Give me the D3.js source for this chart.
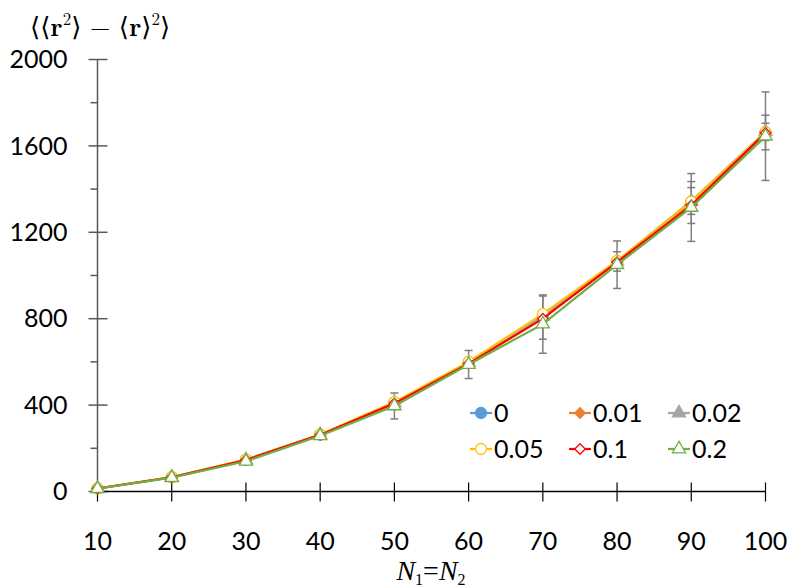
<!DOCTYPE html>
<html><head><meta charset="utf-8">
<script src="https://cdn.jsdelivr.net/npm/d3@7"></script>
<style>body{margin:0;background:#fff}svg{display:block}</style>
</head><body>
<svg id="c" width="789" height="587"></svg>
<script>
const xValues = [10,20,30,40,50,60,70,80,90,100];
const seriesNames = ["0","0.01","0.02","0.05","0.1","0.2"];
const s0    = [14, 66, 147, 263, 410, 596, 805, 1065, 1338, 1662];
const s001  = [14, 66, 146, 262, 408, 594, 805, 1063, 1332, 1660];
const s002  = [14, 66, 147, 263, 410, 597, 812, 1066, 1345, 1665];
const s005  = [14, 67, 148, 264, 414, 600, 822, 1068, 1342, 1663];
const s01   = [14, 66, 146, 262, 408, 592, 800, 1062, 1325, 1660];
const s02   = [13, 64, 140, 258, 396, 588, 775, 1050, 1315, 1645];
const e0    = [0,0,0,0,0,0,100,45,97,80];
const e001  = [0,0,0,0,0,0,0,0,0,0];
const e002  = [0,0,0,0,0,0,0,0,62,40];
const e005  = [0,0,0,0,0,0,0,0,0,0];
const e01   = [0,0,0,0,0,0,0,0,0,0];
const e02   = [3,5,10,10,60,65,135,110,157,205];
const yTicks = [0,400,800,1200,1600,2000];
const yMinor = [200,600,1000,1400,1800];

const vals = [s0,s001,s002,s005,s01,s02];
const errs = [e0,e001,e002,e005,e01,e02];
const styles = [
  {color:"#5b9bd5", shape:"circle", fill:true},
  {color:"#ed7d31", shape:"diamond", fill:true},
  {color:"#a5a5a5", shape:"triangle", fill:true},
  {color:"#ffc000", shape:"circle", fill:false},
  {color:"#ff0000", shape:"diamond", fill:false},
  {color:"#70ad47", shape:"triangle", fill:false}
];

const svg = d3.select("#c");
const x = d3.scaleLinear().domain([10,100]).range([97.5,765.5]);
const y = d3.scaleLinear().domain([0,2000]).range([491.5,59.5]);
const font = "Lato, 'Open Sans', sans-serif";

// y axis
const ya = svg.append("g").attr("transform","translate(97.5,0)");
ya.append("line").attr("y1",y(2000)).attr("y2",y(0)).attr("stroke","#595959").attr("stroke-width",1.5);
ya.selectAll(".mj").data(yTicks).join("line").attr("x1",-9).attr("x2",10)
  .attr("y1",d=>y(d)).attr("y2",d=>y(d)).attr("stroke","#595959").attr("stroke-width",1.5);
ya.selectAll(".mn").data(yMinor).join("line").attr("x1",-7).attr("x2",0)
  .attr("y1",d=>y(d)).attr("y2",d=>y(d)).attr("stroke","#595959").attr("stroke-width",1.5);
ya.selectAll("text").data(yTicks).join("text").attr("x",-30).attr("y",d=>y(d)).attr("dy","0.35em")
  .attr("text-anchor","end").attr("font-family",font).attr("font-size",25).attr("fill","#000").text(d=>d);

// x axis
const xa = svg.append("g").attr("transform",`translate(0,${y(0)})`);
xa.append("line").attr("x1",x(10)).attr("x2",x(100)).attr("stroke","#000").attr("stroke-width",1.5);
xa.selectAll(".t").data(xValues).join("line").attr("x1",d=>x(d)).attr("x2",d=>x(d))
  .attr("y1",-9).attr("y2",10).attr("stroke","#000").attr("stroke-width",1.2);
xa.selectAll("text").data(xValues).join("text").attr("x",d=>x(d)).attr("y",50)
  .attr("dy","0.35em").attr("text-anchor","middle").attr("font-family",font).attr("font-size",25).text(d=>d);

// error bars
const eg = svg.append("g");
vals.forEach((v,i)=>{
  xValues.forEach((xv,j)=>{
    const e = errs[i][j];
    if (!e) return;
    const cx = x(xv), y1 = y(v[j]+e), y2 = y(v[j]-e);
    eg.append("line").attr("x1",cx).attr("x2",cx).attr("y1",y1).attr("y2",y2).attr("stroke","#7f7f7f").attr("stroke-width",1.5);
    [y1,y2].forEach(yy=>eg.append("line").attr("x1",cx-4).attr("x2",cx+4).attr("y1",yy).attr("y2",yy).attr("stroke","#7f7f7f").attr("stroke-width",1.5));
  });
});

function symPath(shape, size){
  const t = shape==="circle"?d3.symbolCircle:shape==="diamond"?d3.symbolDiamond2:d3.symbolTriangle;
  return d3.symbol().type(t).size(size)();
}
function symSize(shape){ return shape==="circle"?95:shape==="diamond"?70:75; }

const line = d3.line().x((d,j)=>x(xValues[j])).y(d=>y(d));
vals.forEach((v,i)=>{
  const st = styles[i];
  svg.append("path").attr("d",line(v)).attr("fill","none").attr("stroke",st.color).attr("stroke-width",2.2);
  svg.append("g").selectAll("path").data(v).join("path")
    .attr("transform",(d,j)=>`translate(${x(xValues[j])},${y(d)})`)
    .attr("d",symPath(st.shape,symSize(st.shape)))
    .attr("fill",st.fill?st.color:"#fff").attr("stroke",st.color).attr("stroke-width",1.3);
});

// legend
const legX = [470,569,668], legY = [413,449];
seriesNames.forEach((name,i)=>{
  const st = styles[i];
  const gx = legX[i%3], gy = legY[Math.floor(i/3)];
  const g = svg.append("g").attr("transform",`translate(${gx},${gy})`);
  g.append("line").attr("x1",0).attr("x2",22).attr("stroke",st.color).attr("stroke-width",2.2);
  g.append("path").attr("transform","translate(11,0)").attr("d",symPath(st.shape,symSize(st.shape)))
    .attr("fill",st.fill?st.color:"#fff").attr("stroke",st.color).attr("stroke-width",1.3);
  g.append("text").attr("x",24).attr("dy","0.35em").attr("font-family",font).attr("font-size",25).text(name);
});

// title
const tt = svg.append("text").attr("x",30).attr("y",36).attr("font-family","'Latin Modern Roman','DejaVu Serif','Liberation Serif',serif").attr("font-size",26);
tt.append("tspan").text("\u27E8\u27E8");
tt.append("tspan").attr("font-weight","bold").text("r");
tt.append("tspan").attr("font-size",17).attr("dy",-11).text("2");
tt.append("tspan").attr("dy",11).text("\u27E9 \u2212 \u27E8");
tt.append("tspan").attr("font-weight","bold").text("r");
tt.append("tspan").text("\u27E9");
tt.append("tspan").attr("font-size",17).attr("dy",-11).text("2");
tt.append("tspan").attr("dy",11).text("\u27E9");

// x label
const xl = svg.append("text").attr("x",431).attr("y",580).attr("text-anchor","middle")
  .attr("font-family","'Liberation Serif','Times New Roman',serif").attr("font-size",28).attr("font-style","italic");
xl.append("tspan").text("N");
xl.append("tspan").attr("font-size",16).attr("dy",5).attr("font-style","normal").text("1");
xl.append("tspan").attr("dy",-5).attr("font-style","normal").text("=");
xl.append("tspan").text("N");
xl.append("tspan").attr("font-size",16).attr("dy",5).attr("font-style","normal").text("2");
</script>
</body></html>
